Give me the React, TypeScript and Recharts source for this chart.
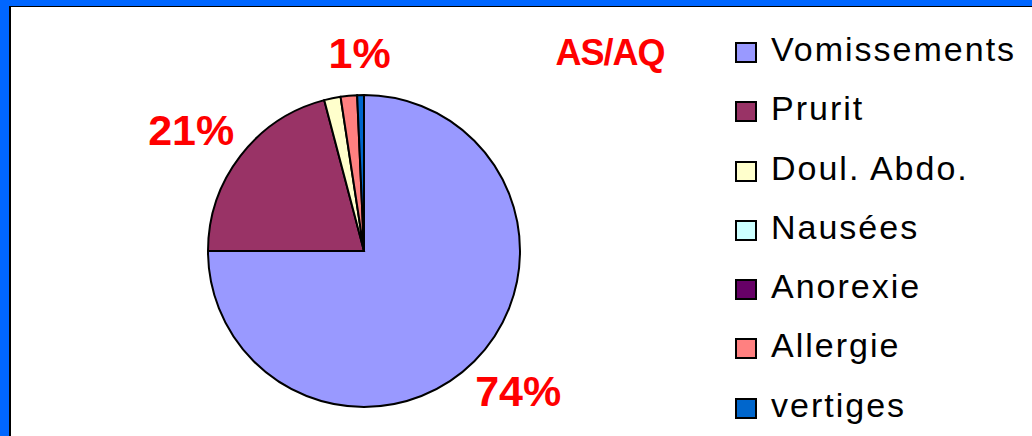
import { PieChart, Pie, Cell, Legend } from "recharts";

// slices, clockwise from 12 o'clock
const categories = [
  "Vomissements",
  "Prurit",
  "Doul. Abdo.",
  "Nausées",
  "Anorexie",
  "Allergie",
  "vertiges",
];
const shares = [75, 20.9, 1.7, 0, 0, 1.7, 0.7];
const sliceLabels = ["74%", "21%", "", "", "", "", "1%"];
const colors = [
  "#9999FF",
  "#993366",
  "#FFFFCC",
  "#CCFFFF",
  "#660066",
  "#FF8080",
  "#0066CC",
];
const title = "AS/AQ";

const data = categories.map((name, i) => ({ name, value: shares[i] }));

const FONT = "'Liberation Sans', Arial, sans-serif";
const RADIAN = Math.PI / 180;

function SliceLabel(props: any) {
  const { cx, cy, midAngle, outerRadius, index } = props;
  const text = sliceLabels[index];
  if (!text) return null;
  const fs = 43;
  const cos = Math.cos(midAngle * RADIAN);
  const sin = Math.sin(midAngle * RADIAN);
  const r = outerRadius + 26;
  const halfW = (text.length * 0.56 * fs) / 2 - (text.length === 2 ? 6 : 0);
  const x = cx + r * cos + halfW * cos;
  const y = cy - r * sin - 16 * sin;
  return (
    <text
      x={x}
      y={y + 15}
      textAnchor="middle"
      fill="#FF0000"
      fontFamily={FONT}
      fontWeight="bold"
      fontSize={fs}
    >
      {text}
    </text>
  );
}

// legend keeps the series order (the default payload comes back sorted)
function LegendList() {
  return (
    <div style={{ fontFamily: FONT }}>
      {categories.map((name, i) => (
        <div
          key={name}
          style={{ display: "flex", alignItems: "center", height: 59.25 }}
        >
          <span
            style={{
              display: "inline-block",
              width: 22,
              height: 21,
              boxSizing: "border-box",
              border: "2px solid #000",
              background: colors[i],
            }}
          />
          <span
            style={{
              marginLeft: 14,
              fontSize: 34,
              letterSpacing: 2,
              color: "#000",
              position: "relative",
              top: -3,
              whiteSpace: "nowrap",
            }}
          >
            {name}
          </span>
        </div>
      ))}
    </div>
  );
}

export default function App() {
  return (
    <div
      style={{
        position: "absolute",
        left: 0,
        top: 0,
        width: 1032,
        height: 436,
        background: "#0066FF",
        overflow: "hidden",
      }}
    >
      {/* white plot area with thin dark edge */}
      <div
        style={{
          position: "absolute",
          left: 9,
          top: 6,
          right: 0,
          bottom: 0,
          background: "#fff",
          borderTop: "1px solid #000",
          borderLeft: "2px solid #000",
        }}
      />
      <div
        style={{
          position: "absolute",
          left: 510,
          top: 35,
          width: 200,
          textAlign: "center",
          fontFamily: FONT,
          fontWeight: "bold",
          fontSize: 36,
          lineHeight: "36px",
          letterSpacing: -1,
          color: "#FF0000",
        }}
      >
        {title}
      </div>
      <div style={{ position: "absolute", left: 0, top: 0 }}>
        <PieChart
          width={1032}
          height={436}
          margin={{ top: 0, right: 0, bottom: 0, left: 0 }}
        >
          <Pie
            data={data}
            dataKey="value"
            nameKey="name"
            cx={364}
            cy={251}
            outerRadius={156}
            startAngle={90}
            endAngle={-270}
            stroke="#000"
            strokeWidth={2}
            label={SliceLabel}
            labelLine={false}
            isAnimationActive={false}
          >
            {data.map((_, i) => (
              <Cell key={i} fill={colors[i]} />
            ))}
          </Pie>
          <Legend
            layout="vertical"
            align="right"
            verticalAlign="top"
            content={LegendList}
            wrapperStyle={{ left: 735, top: 23, width: 297, right: "auto" }}
          />
        </PieChart>
      </div>
    </div>
  );
}
